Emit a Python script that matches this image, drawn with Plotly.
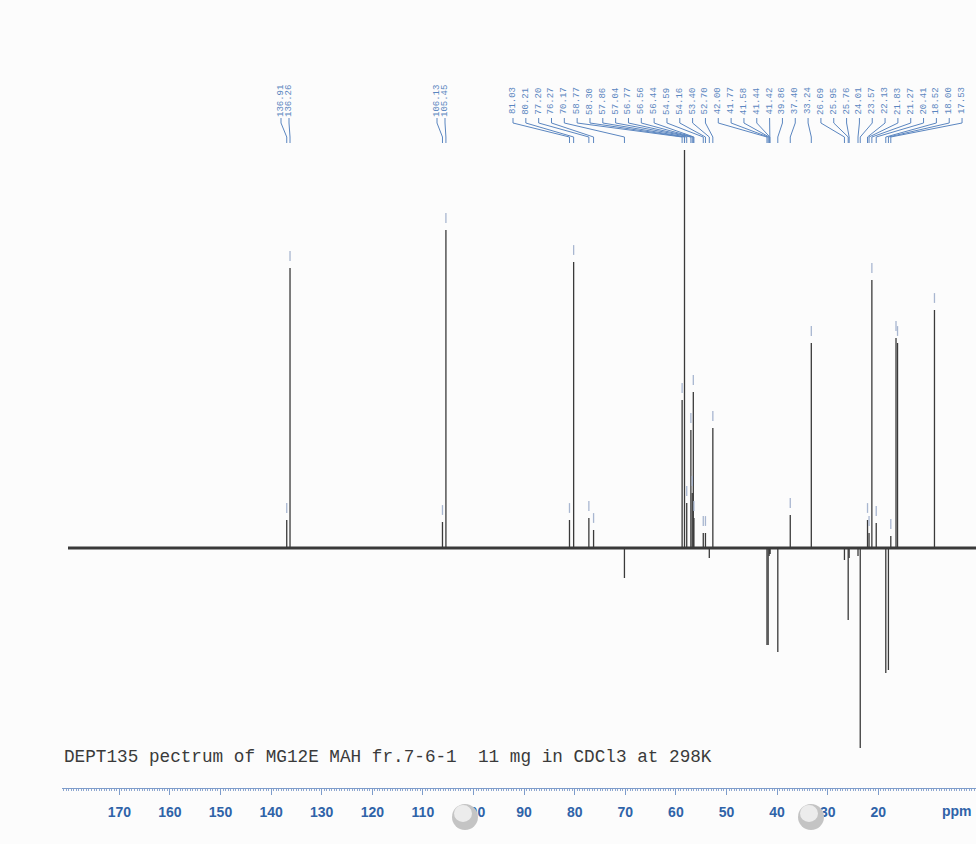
import plotly.graph_objects as go

# ---------------- data ----------------
peak_ppm = [136.91, 136.26, 106.13, 105.45,
            81.03, 80.21, 77.20, 76.27, 70.17,
            58.77, 58.30, 57.86, 57.04, 56.77, 56.56, 56.44,
            54.59, 54.16, 53.40, 52.70,
            42.00, 41.77, 41.58, 41.44, 41.42, 39.86, 37.40, 33.24,
            26.69, 25.95, 25.76, 24.01, 23.57, 22.13, 21.83, 21.27,
            20.41, 18.52, 18.00, 17.53]
peak_int = [28, 280, 26, 318,
            28, 286, 30, 18, -30,
            148, 398, 45, 118, 55, 156, 30,
            15, 15, -10, 120,
            -97, -97, -8, -6, -6, -104, 33, 205,
            -12, -72, -10, -8, -200, 28, 15, 268,
            25, -125, -122, 12]
# peaks whose labels are outside the scanned page
extra_ppm = [16.5, 16.2, 8.9]
extra_int = [210, 205, 238]

tick_vals = [170, 160, 150, 140, 130, 120, 110, 100, 90, 80, 70, 60, 50, 40, 30, 20]
tick_text = [str(v) for v in tick_vals]
caption = "DEPT135 pectrum of MG12E MAH fr.7-6-1  11 mg in CDCl3 at 298K"

# ---------------- geometry helpers (layout only) ----------------
W, H = 976, 844
PLOT_BOTTOM = 788
X0, S = 979.5, 5.06          # px position of 0 ppm and px per ppm
BASE_PX = 548                # baseline pixel row


def px2ppm(px):
    return (X0 - px) / S


def py2y(py):
    return BASE_PX - py


def px2paper(px):
    return px / W


def py2paper(py):
    return (PLOT_BOTTOM - py) / PLOT_BOTTOM


BLUE = "#5b86c0"
AXBLUE = "#2f63a8"

fig = go.Figure()

# baseline
fig.add_trace(go.Scatter(x=[px2ppm(68), px2ppm(976)], y=[0, 0], mode="lines",
                         line=dict(color="#3a3a3a", width=3.2), hoverinfo="skip",
                         showlegend=False))

# sticks
all_ppm = peak_ppm + extra_ppm
all_int = peak_int + extra_int
xs, ys = [], []
for p, h in zip(all_ppm, all_int):
    xs += [p, p, None]
    ys += [0, h, None]
fig.add_trace(go.Scatter(x=xs, y=ys, mode="lines",
                         line=dict(color="#3a3a3a", width=1.3),
                         hoverinfo="skip", showlegend=False))

# peak-pick markers above positive peaks
mx = [p for p, h in zip(all_ppm, all_int) if h > 0]
my = [h + 12 for h in all_int if h > 0]
fig.add_trace(go.Scatter(x=mx, y=my, mode="markers",
                         marker=dict(symbol="line-ns", size=7,
                                     line=dict(color="#a8b6d0", width=1.3)),
                         hoverinfo="skip", showlegend=False))

# label positions (pixels)
label_px = [281, 289, 437, 445] + [513 + i * 12.83 for i in range(len(peak_ppm) - 4)]

cx, cy = [], []
annotations = []
for lp, p in zip(label_px, peak_ppm):
    cx += [px2ppm(lp), px2ppm(lp), p, p, None]
    cy += [py2y(118), py2y(123), py2y(137), py2y(143), None]
    annotations.append(dict(
        x=px2paper(lp), y=py2paper(101), xref="paper", yref="paper",
        text=f"{p:.2f}", textangle=-90, showarrow=False,
        font=dict(family="Liberation Mono, DejaVu Sans Mono, monospace", size=9, color=BLUE),
        xanchor="center", yanchor="middle"))

fig.add_trace(go.Scatter(x=cx, y=cy, mode="lines",
                         line=dict(color=BLUE, width=1),
                         hoverinfo="skip", showlegend=False))

annotations.append(dict(
    x=px2paper(62), y=py2paper(757), xref="paper", yref="paper",
    text=caption, showarrow=False, xanchor="left", yanchor="middle",
    font=dict(family="Liberation Mono, Courier New, monospace", size=17.7, color="#3a3a3a")))

annotations.append(dict(
    x=px2paper(957), y=py2paper(811), xref="paper", yref="paper",
    text="ppm", showarrow=False, xanchor="center", yanchor="middle",
    font=dict(family="Liberation Sans, Arial", size=14, color=AXBLUE, weight="bold")))

shapes = []
for bx in (465, 811):
    shapes.append(dict(type="circle", xref="paper", yref="paper",
                       x0=px2paper(bx - 13), x1=px2paper(bx + 13),
                       y0=py2paper(817 + 13), y1=py2paper(817 - 13),
                       fillcolor="#c4c4c4", line=dict(width=0)))
    shapes.append(dict(type="circle", xref="paper", yref="paper",
                       x0=px2paper(bx - 11), x1=px2paper(bx + 7),
                       y0=py2paper(817 + 5), y1=py2paper(817 - 12),
                       fillcolor="#ececec", line=dict(width=0)))

fig.update_layout(
    width=W, height=H, autosize=False,
    margin=dict(l=0, r=0, t=0, b=H - PLOT_BOTTOM, pad=0),
    paper_bgcolor="#fcfcfc", plot_bgcolor="#fcfcfc",
    annotations=annotations, shapes=shapes,
    hovermode=False,
    xaxis=dict(
        domain=[px2paper(62), 1],
        range=[px2ppm(62), px2ppm(976)],
        showgrid=False, zeroline=False,
        showline=True, linecolor="#7d9ccb", linewidth=1,
        ticks="outside", ticklen=6, tickwidth=1, tickcolor="#7d9ccb",
        tickvals=tick_vals, ticktext=tick_text,
        ticklabelstandoff=5,
        tickfont=dict(family="Liberation Sans, Arial", size=14,
                      color=AXBLUE, weight="bold"),
        minor=dict(ticks="outside", ticklen=2, dtick=0.5, tickcolor="#8fa8d0", tickwidth=1),
    ),
    yaxis=dict(range=[py2y(PLOT_BOTTOM), py2y(0)], visible=False,
               showgrid=False, zeroline=False),
)

fig.write_html("out.html", config={"displayModeBar": False},
               post_script="document.body.style.margin='0';document.body.style.background='#fcfcfc';")
